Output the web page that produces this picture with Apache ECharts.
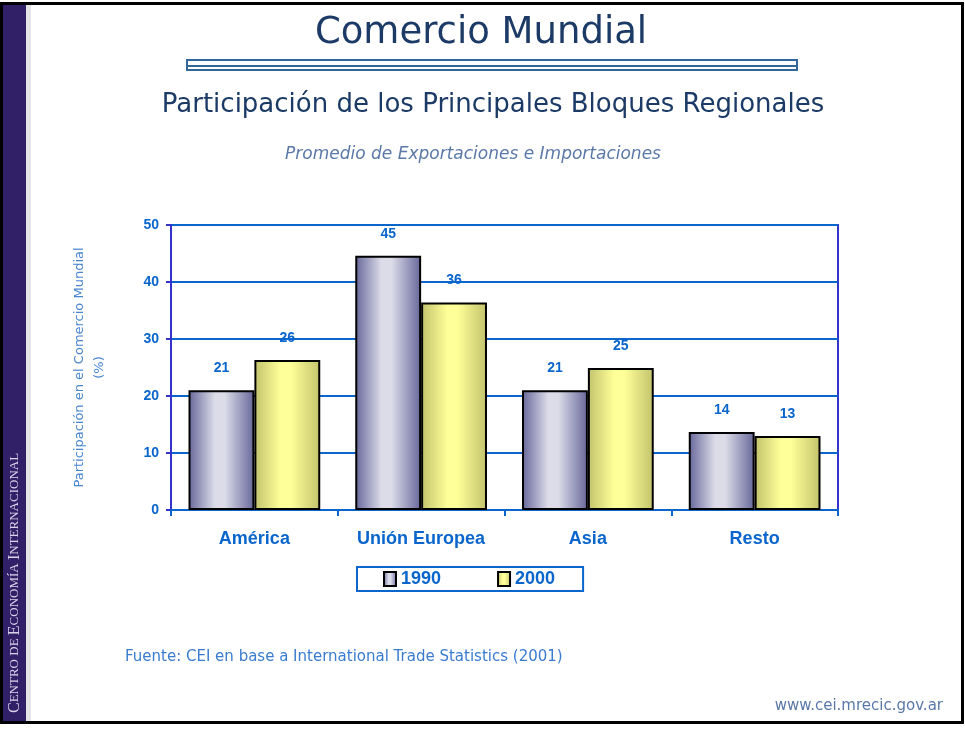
<!DOCTYPE html>
<html>
<head>
<meta charset="utf-8">
<title>Comercio Mundial</title>
<script src="https://cdn.jsdelivr.net/npm/echarts@6/dist/echarts.min.js"></script>
<style>
  html, body { margin: 0; padding: 0; background: #fff; }
  #chart { width: 965px; height: 729px; }
</style>
</head>
<body>
<div id="chart"></div>
<script>
// datos
var bloques = ['América', 'Unión Europea', 'Asia', 'Resto'];
var anios = ['1990', '2000'];
var valores1990 = [21, 44.6, 21, 13.7];
var valores2000 = [26.3, 36.4, 24.9, 13.0];
var ticksY = [0, 10, 20, 30, 40, 50];

var azul = '#0a66cc';
var violeta = '#3333cc';
var navy = '#1b3a66';

function gradiente(borde, centro) {
    return new echarts.graphic.LinearGradient(0, 0, 1, 0, [
        { offset: 0, color: borde },
        { offset: 0.4, color: centro },
        { offset: 0.55, color: centro },
        { offset: 1, color: borde }
    ]);
}

var etiqueta = {
    show: true,
    position: 'top',
    distance: 15,
    color: azul,
    fontFamily: 'Liberation Sans',
    fontWeight: 'bold',
    fontSize: 14,
    formatter: function (p) { return Math.round(p.value); }
};

var option = {
    animation: false,
    backgroundColor: '#fff',
    grid: {
        left: 171,
        top: 225,
        right: 127,
        bottom: 219,
        show: true,
        borderColor: violeta,
        borderWidth: 2
    },
    legend: {
        data: anios,
        icon: 'rect',
        left: 357,
        top: 567,
        width: 226,
        padding: [3, 28, 3, 26],
        itemGap: 56,
        itemWidth: 12,
        itemHeight: 14,
        borderColor: azul,
        borderWidth: 2,
        textStyle: {
            color: azul,
            fontFamily: 'Liberation Sans',
            fontWeight: 'bold',
            fontSize: 18
        }
    },
    xAxis: {
        type: 'category',
        data: bloques,
        axisLine: { lineStyle: { color: azul, width: 2 } },
        axisTick: { show: true, interval: 0, length: 6, lineStyle: { color: azul, width: 2 } },
        axisLabel: {
            margin: 20,
            color: azul,
            fontFamily: 'Liberation Sans',
            fontWeight: 'bold',
            fontSize: 18
        }
    },
    yAxis: {
        type: 'value',
        min: 0,
        max: 50,
        interval: 10,
        name: 'Participación en el Comercio Mundial\n(%)',
        nameLocation: 'middle',
        nameGap: 61,
        nameTextStyle: {
            color: '#4a86d0',
            fontFamily: 'DejaVu Sans',
            fontSize: 13,
            lineHeight: 20
        },
        axisLine: { show: true, lineStyle: { color: violeta, width: 2 } },
        axisTick: { show: true, length: 5, lineStyle: { color: violeta, width: 2 } },
        splitLine: { lineStyle: { color: azul, width: 2 } },
        axisLabel: {
            margin: 12,
            color: azul,
            fontFamily: 'Liberation Sans',
            fontWeight: 'bold',
            fontSize: 14,
            formatter: function (v) { return ticksY.indexOf(v) >= 0 ? v : ''; }
        }
    },
    series: [
        {
            name: anios[0],
            type: 'bar',
            data: valores1990,
            barGap: '0%',
            barCategoryGap: '21%',
            itemStyle: {
                color: gradiente('#66669a', '#dcdce9'),
                borderColor: '#000',
                borderWidth: 2
            },
            label: etiqueta
        },
        {
            name: anios[1],
            type: 'bar',
            data: valores2000,
            barGap: '0%',
            barCategoryGap: '21%',
            itemStyle: {
                color: gradiente('#c2c26c', '#ffff99'),
                borderColor: '#000',
                borderWidth: 2
            },
            label: etiqueta
        }
    ],
    graphic: [
        // marco
        { type: 'rect', shape: { x: 1.5, y: 3.5, width: 961, height: 719 }, style: { fill: null, stroke: '#000', lineWidth: 3 }, z: 10 },
        // banda lateral
        { type: 'rect', shape: { x: 3, y: 5, width: 23, height: 716 }, style: { fill: '#312068' } },
        { type: 'rect', shape: { x: 26, y: 5, width: 5, height: 716 }, style: { fill: '#e4e4e4' } },
        {
            type: 'text',
            x: 15, y: 713,
            rotation: Math.PI / 2,
            style: {
                text: '{g|C}{p|ENTRO DE }{g|E}{p|CONOMÍA }{g|I}{p|NTERNACIONAL}',
                textAlign: 'left',
                textVerticalAlign: 'middle',
                rich: {
                    g: { fontFamily: 'Liberation Serif', fontSize: 16, fill: '#d8d2ea' },
                    p: { fontFamily: 'Liberation Serif', fontSize: 13, fill: '#d8d2ea' }
                }
            }
        },
        // titulos
        {
            type: 'text', x: 481, y: 33,
            style: { text: 'Comercio Mundial', fill: navy, font: '37px "DejaVu Sans"', textAlign: 'center', textVerticalAlign: 'middle' }
        },
        { type: 'rect', shape: { x: 187, y: 60, width: 610, height: 10 }, style: { fill: null, stroke: '#336699', lineWidth: 2 } },
        { type: 'line', shape: { x1: 187, y1: 66, x2: 797, y2: 66 }, style: { stroke: '#336699', lineWidth: 2 } },
        {
            type: 'text', x: 493, y: 105,
            style: { text: 'Participación de los Principales Bloques Regionales', fill: navy, font: '26px "DejaVu Sans"', textAlign: 'center', textVerticalAlign: 'middle' }
        },
        {
            type: 'text', x: 473, y: 155,
            style: { text: 'Promedio de Exportaciones e Importaciones', fill: '#5a78a8', font: 'italic 17px "DejaVu Sans"', textAlign: 'center', textVerticalAlign: 'middle' }
        },
        {
            type: 'text', x: 125, y: 657,
            style: { text: 'Fuente: CEI en base a International Trade Statistics (2001)', fill: '#3a7cd0', font: '15px "DejaVu Sans"', textAlign: 'left', textVerticalAlign: 'middle' }
        },
        {
            type: 'text', x: 943, y: 706,
            style: { text: 'www.cei.mrecic.gov.ar', fill: '#5a78a8', font: '15px "DejaVu Sans"', textAlign: 'right', textVerticalAlign: 'middle' }
        }
    ]
};

var chart = echarts.init(document.getElementById('chart'));
chart.setOption(option);
</script>
</body>
</html>
